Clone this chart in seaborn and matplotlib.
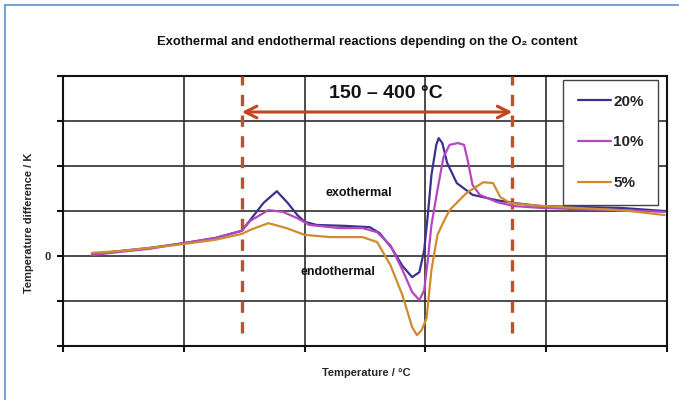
import numpy as np
import pandas as pd
import matplotlib
matplotlib.use("Agg")
import matplotlib.pyplot as plt
import seaborn as sns

# ---- data (chart units: x 0..5 grid columns, y -2..4 grid rows) ----
x_20 = [0.24, 0.47, 0.72, 1.01, 1.26, 1.48, 1.66, 1.77, 1.86, 1.94, 2.00, 2.10, 2.33, 2.54, 2.62,
        2.72, 2.81, 2.89, 2.95, 2.99, 3.02, 3.05, 3.09, 3.11, 3.14, 3.18, 3.26, 3.39, 3.59, 3.73,
        3.95, 4.28, 4.61, 4.98]
y_20 = [0.04, 0.11, 0.18, 0.29, 0.40, 0.56, 1.18, 1.44, 1.18, 0.91, 0.76, 0.69, 0.67, 0.64, 0.51,
        0.18, -0.22, -0.47, -0.36, 0.13, 0.91, 1.80, 2.47, 2.62, 2.51, 2.07, 1.62, 1.36, 1.24, 1.18,
        1.11, 1.09, 1.07, 1.00]

x_10 = [0.24, 0.47, 0.72, 1.01, 1.26, 1.48, 1.55, 1.70, 1.82, 1.94, 2.04, 2.29, 2.48, 2.60, 2.71,
        2.81, 2.89, 2.95, 2.99, 3.02, 3.05, 3.10, 3.15, 3.20, 3.27, 3.32, 3.35, 3.39, 3.45, 3.59,
        3.73, 3.95, 4.28, 4.61, 4.98]
y_10 = [0.02, 0.09, 0.16, 0.29, 0.40, 0.56, 0.78, 1.02, 0.98, 0.84, 0.69, 0.62, 0.62, 0.53, 0.24,
        -0.31, -0.80, -0.98, -0.76, -0.09, 0.69, 1.47, 2.20, 2.47, 2.51, 2.47, 2.13, 1.58, 1.36, 1.20,
        1.11, 1.07, 1.04, 1.02, 0.98]

x_5 = [0.24, 0.47, 0.72, 1.01, 1.26, 1.48, 1.55, 1.70, 1.85, 2.00, 2.21, 2.48, 2.60, 2.71, 2.81,
       2.89, 2.93, 2.97, 3.01, 3.05, 3.10, 3.15, 3.20, 3.34, 3.48, 3.56, 3.62, 3.70, 3.87, 4.11,
       4.45, 4.69, 4.98]
y_5 = [0.07, 0.11, 0.18, 0.27, 0.36, 0.49, 0.58, 0.73, 0.62, 0.47, 0.42, 0.42, 0.31, -0.20, -0.87,
       -1.58, -1.76, -1.64, -1.38, -0.31, 0.47, 0.76, 1.02, 1.40, 1.64, 1.62, 1.31, 1.18, 1.13, 1.09,
       1.04, 1.00, 0.91]

series_labels = ["20%", "10%", "5%"]
series_colors = ["#3b318f", "#b546c2", "#d08c2c"]
range_bounds = [1.48, 3.72]          # 150 °C and 400 °C marks
range_label = "150 – 400 °C"

rows = []
for lab, xs, ys in zip(series_labels, [x_20, x_10, x_5], [y_20, y_10, y_5]):
    for a, b in zip(xs, ys):
        rows.append((lab, a, b))
df = pd.DataFrame(rows, columns=["series", "x", "y"])

# ---- figure ----
sns.set_theme(style="white")
plt.rcParams["font.family"] = ["Liberation Sans", "DejaVu Sans"]
plt.rcParams["font.weight"] = "bold"

fig = plt.figure(figsize=(6.79, 4.0), dpi=100)
ax = fig.add_axes([63 / 679, 54 / 400, 604 / 679, 270 / 400])

sns.lineplot(data=df, x="x", y="y", hue="series", hue_order=series_labels,
             palette=series_colors, estimator=None, sort=False, lw=1.6, ax=ax, zorder=4)

ax.set_xlim(0, 5)
ax.set_ylim(-2, 4)
ax.set_xticks(np.arange(0, 6))
ax.set_yticks(np.arange(-2, 5))
ax.set_xticklabels([])
ax.set_yticklabels(["", "", "0", "", "", "", ""], fontsize=8, fontweight="bold")
ax.grid(True, color="#2e2e2e", lw=1.2, zorder=1)
ax.set_axisbelow(True)
for s in ax.spines.values():
    s.set_color("#111111")
    s.set_linewidth(1.5)
ax.tick_params(axis="both", direction="out", length=4, width=1.5, color="#111111", pad=2,
               left=True, bottom=True)
ax.tick_params(axis="y", pad=5)
ax.set_xlabel("Temperature / °C", fontsize=8, fontweight="bold")
ax.set_ylabel("Temperature difference / K", fontsize=8, fontweight="bold")
ax.yaxis.set_label_coords(-(63 - 34) / 604, (346 - 223) / 270)
ax.xaxis.set_label_coords((366 - 63) / 604, -(368 - 346) / 270)

# dashed range markers
for b in range_bounds:
    ax.plot([b, b], [-1.71, 4], color="#c0502a", lw=2.4, ls=(0, (3.4, 2.8)), zorder=3)

ax.annotate("", xy=(range_bounds[0], 3.2), xytext=(range_bounds[1], 3.2),
            arrowprops=dict(arrowstyle="<->,head_length=0.7,head_width=0.35",
                            color="#c0461f", lw=2.2, shrinkA=0, shrinkB=0), zorder=5)
ax.text(2.67, 3.62, range_label, ha="center", va="center", fontsize=14, fontweight="bold",
        color="#111111", zorder=2)
ax.text(2.45, 1.40, "exothermal", ha="center", va="center", fontsize=9, fontweight="bold",
        color="#111111")
ax.text(2.28, -0.36, "endothermal", ha="center", va="center", fontsize=9, fontweight="bold",
        color="#111111")

leg = ax.legend(loc="upper left", bbox_to_anchor=(563 / 679, 320 / 400),
                bbox_transform=fig.transFigure, borderaxespad=0, frameon=True,
                fancybox=False, edgecolor="#444444", framealpha=1,
                handlelength=2.2, handletextpad=0.15, labelspacing=1.75, borderpad=0.95,
                prop={"weight": "bold", "size": 11})
leg.get_frame().set_linewidth(1.0)
leg.set_zorder(10)

fig.text(367 / 679, 1 - 42 / 400,
         "Exothermal and endothermal reactions depending on the O₂ content",
         ha="center", va="center", fontsize=9.4, fontweight="bold", color="#111111")

# blue frame (left & top)
fig.add_artist(plt.Line2D([5 / 679, 5 / 679], [0, 1 - 5 / 400], transform=fig.transFigure,
                          color="#5d8fd0", lw=1.2))
fig.add_artist(plt.Line2D([5 / 679, 1], [1 - 5 / 400, 1 - 5 / 400], transform=fig.transFigure,
                          color="#5d8fd0", lw=1.2))

fig.savefig("out.png", dpi=100)
